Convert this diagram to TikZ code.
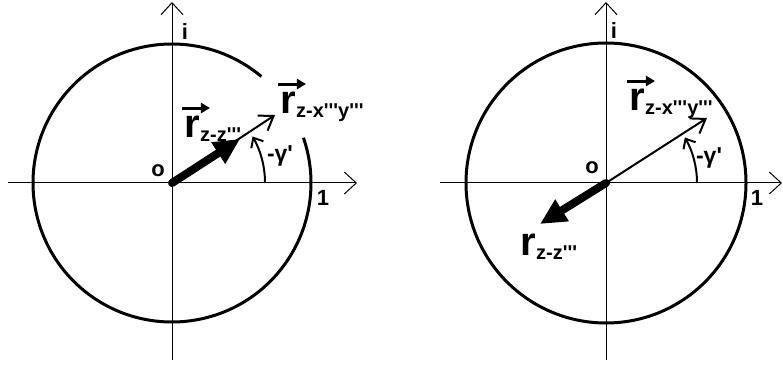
\documentclass[tikz,border=0pt]{standalone}
\usepackage{fontspec}
\setmainfont{Liberation Sans}
\usetikzlibrary{arrows.meta, positioning}

\newcommand{\trpl}{\textquotesingle\textquotesingle\textquotesingle}

\begin{document}
\begin{tikzpicture}[
    x=1pt, y=1pt,
    axis/.style={line width=1pt, -{Straight Barb[length=12pt,width=22pt]}},
    circ/.style={line width=3pt},
    thinvec/.style={line width=2pt, -{Straight Barb[length=13pt,width=18pt]}},
    thickvec/.style={line width=8pt, line cap=round, -{Triangle[length=26pt,width=24pt]}},
    angarc/.style={line width=2pt, -{Straight Barb[length=8pt,width=14pt]}},
    lbl/.style={font=\bfseries\fontsize{22}{22}\selectfont, inner sep=0pt},
    glbl/.style={font=\bfseries\fontsize{23}{23}\selectfont, inner sep=0pt},
    rsym/.style={font=\bfseries\fontsize{40}{40}\selectfont, inner sep=0pt},
    rsub/.style={font=\bfseries\fontsize{20}{20}\selectfont, inner sep=0pt, anchor=base west, yshift=-4pt},
    overarr/.style={line width=3pt, -{Triangle[length=9pt,width=10pt]}}
]
\useasboundingbox (0,0) rectangle (783,367);

% Left diagram
\begin{scope}[shift={(172,184)}]
\coordinate (O1) at (0,0);
\coordinate (P1) at (103,68);
\coordinate (Q1) at (68,44);
\coordinate (A1) at (93,0);
\draw[axis] (-164,0) -- (185,0);
\draw[axis] (0,-177) -- (0,181);
\draw[circ] (O1) ++(50:139) arc[start angle=50, end angle=379, radius=139];
\draw[thinvec] (O1) -- (P1);
\draw[thickvec] (O1) -- (Q1);
\draw[angarc] (A1) arc[start angle=0, end angle=30, radius=93];

\node[lbl] (i1) at (13,151) {i};
\node[lbl] (o1) at (-14,12) {o};
\node[lbl] (one1) at (151,-15) {1};
\node[glbl] (g1) at (108,27) {-γ\textquotesingle};

\node[rsym] (rxy1) at (116,80) {r};
\node[rsub] (rxy1s) at (rxy1.base east) {z-x\trpl y\trpl};
\draw[overarr] ([xshift=-2pt,yshift=8pt]rxy1.north west) -- ([xshift=10pt,yshift=8pt]rxy1.north east);

\node[rsym] (rz1) at (20,56) {r};
\node[rsub] (rz1s) at (rz1.base east) {z-z\trpl};
\draw[overarr] ([xshift=-2pt,yshift=8pt]rz1.north west) -- ([xshift=10pt,yshift=8pt]rz1.north east);
\end{scope}

% Right diagram
\begin{scope}[shift={(606,184)}]
\coordinate (O2) at (0,0);
\coordinate (P2) at (101,65);
\coordinate (Q2) at (-66,-41);
\coordinate (A2) at (91,0);
\draw[axis] (-166,0) -- (176,0);
\draw[axis] (0,-177) -- (0,181);
\draw[circ] (O2) circle[radius=140];
\draw[thinvec] (O2) -- (P2);
\draw[thickvec] (O2) -- (Q2);
\draw[angarc] (A2) arc[start angle=0, end angle=30, radius=91];

\node[lbl] (i2) at (8,152) {i};
\node[lbl] (o2) at (-14,15) {o};
\node[lbl] (one2) at (151,-15) {1};
\node[glbl] (g2) at (103,25) {-γ\textquotesingle};

\node[rsym] (rxy2) at (31,83) {r};
\node[rsub] (rxy2s) at (rxy2.base east) {z-x\trpl y\trpl};
\draw[overarr] ([xshift=-2pt,yshift=8pt]rxy2.north west) -- ([xshift=10pt,yshift=8pt]rxy2.north east);

\node[rsym] (rz2) at (-78,-62) {r};
\node[rsub] (rz2s) at (rz2.base east) {z-z\trpl};
\end{scope}

\end{tikzpicture}
\end{document}
